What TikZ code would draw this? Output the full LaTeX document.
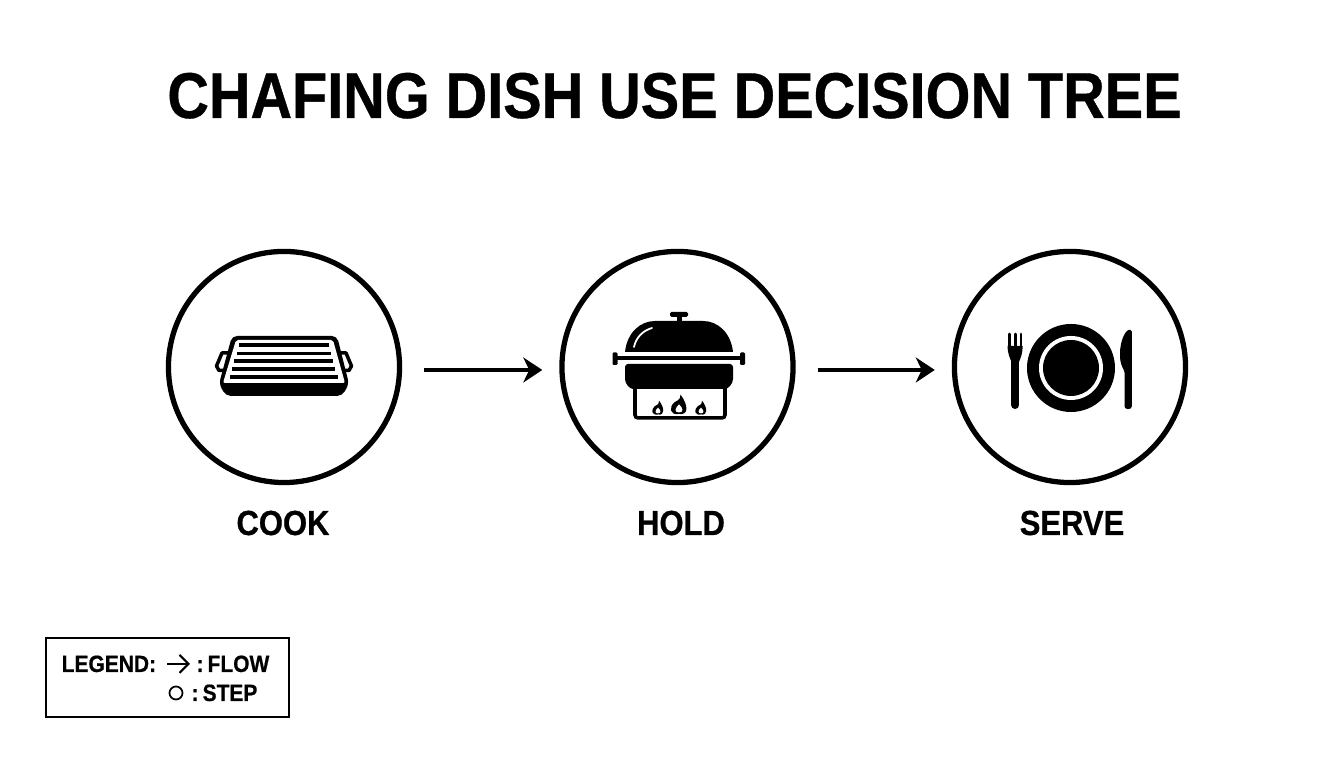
\documentclass[tikz,border=0pt]{standalone}
\usepackage{fontspec}
\setmainfont[BoldFeatures={FakeBold=.6,FakeStretch=.89}]{Liberation Sans}
\usetikzlibrary{arrows.meta}
\tikzset{
  stepnode/.style = {circle, draw, line width = 1.5pt, minimum size = 2.31cm, inner sep = 0},
  flowline/.style = {line width = 1.1pt, -{Stealth[length = 1.9mm, width = 2.5mm, inset = .6mm]}, shorten < = .22cm, shorten > = .17cm},
  steplabel/.style = {font = \fontsize{9.9}{12}\bfseries, anchor = base},
  legendtext/.style = {font = \fontsize{6.7}{8}\bfseries, anchor = base west, inner sep = 0},
}
\newcommand{\flameicon}[3]{% x, y, size
\fill[black] (#1,#2) .. controls (#1+.62*#3,#2+.1*#3) and (#1+.62*#3,#2-.55*#3) .. (#1+.1*#3,#2-1.25*#3)
 .. controls (#1+.1*#3,#2-.85*#3) and (#1-.2*#3,#2-.85*#3) .. (#1-.3*#3,#2-.75*#3)
 .. controls (#1-.65*#3,#2-.45*#3) and (#1-.62*#3,#2+.1*#3) .. (#1,#2);
\fill[white] (#1,#2-.1*#3) .. controls (#1+.34*#3,#2-.1*#3) and (#1+.25*#3,#2-.4*#3) .. (#1,#2-.62*#3)
 .. controls (#1-.25*#3,#2-.4*#3) and (#1-.34*#3,#2-.1*#3) .. (#1,#2-.1*#3);
}
\begin{document}
\begin{tikzpicture}[x = .01cm, y = -.01cm]
\useasboundingbox (0,0) rectangle (1344,768);
\node[font = \fontsize{18.4}{22}\bfseries, anchor = base] (title) at (674.5,118) {CHAFING DISH USE DECISION TREE};
% steps
\node[stepnode] (cook) at (284,367) {};
\node[stepnode] (hold) at (677.5,367) {};
\node[stepnode] (serve) at (1070,367) {};
\draw[flowline] ([yshift = -.03cm]cook.east) -- ([yshift = -.03cm]hold.west);
\draw[flowline] ([yshift = -.03cm]hold.east) -- ([yshift = -.03cm]serve.west);
\node[steplabel] (cooklabel) at (283,535) {COOK};
\node[steplabel] (holdlabel) at (681,535) {HOLD};
\node[steplabel] (servelabel) at (1072,535) {SERVE};
% cook icon
\draw[line width = 1pt, line join = round] (231,353) -- (222,353) -- (216.5,366) -- (219,370.5) -- (228,370.5);
\draw[line width = 1pt, line join = round] (337,353) -- (346,353) -- (351.5,366) -- (349,370.5) -- (340,370.5);
\fill[black, rounded corners = .05cm] (232,336) -- (337,336) -- (349,384) -- (342,396) -- (226,396) -- (219,384) -- cycle;
\fill[white, rounded corners = .02cm] (236,340) -- (333,340) -- (345,383) -- (223,383) -- cycle;
\draw[line width = 1pt] (239,345) -- (329,345);
\draw[line width = 1pt] (237,353.3) -- (331,353.3);
\draw[line width = 1pt] (234,361) -- (333,361);
\draw[line width = 1pt] (232,369) -- (335,369);
\draw[line width = 1pt] (230,377) -- (338,377);
% hold icon
\fill[black] (625,352) .. controls (627,333) and (640,321) .. (655,321) -- (703,321) .. controls (718,321) and (731,333) .. (733,352) -- cycle;
\draw[white, line width = .5pt, line cap = round] (634,347) .. controls (636,338) and (642,331) .. (652,328);
\fill[black] (676.5,315) rectangle (681.5,323);
\fill[black, rounded corners = .015cm] (670,312) rectangle (688,317);
\fill[black, rounded corners = .03cm] (625,364) -- (733,364) -- (733,376) .. controls (733,384) and (728,389) .. (722,389) -- (636,389) .. controls (630,389) and (625,384) .. (625,376) -- cycle;
\fill[black] (615,356) rectangle (743,360);
\fill[black, rounded corners = .012cm] (612.5,352.5) rectangle (617.5,365);
\fill[black, rounded corners = .012cm] (740,352.5) rectangle (745,365);
\draw[line width = 1pt, rounded corners = .03cm] (635,388) -- (635,418) -- (725,418) -- (725,388);
\flameicon{658}{414.5}{11}
\flameicon{679}{414}{15.5}
\flameicon{701}{414.5}{11}
% serve icon
\fill[black] (1071,368) circle (44);
\fill[white] (1071,368) circle (32);
\fill[black] (1071,368) circle (28);
\draw[line width = .8pt, line cap = round] (1009.3,334) -- (1009.3,348);
\draw[line width = .8pt, line cap = round] (1015.3,334) -- (1015.3,348);
\draw[line width = .8pt, line cap = round] (1021,334) -- (1021,348);
\fill[black] (1007.6,346) .. controls (1007.6,354) and (1010,358) .. (1011.5,362) -- (1019,362) .. controls (1020.6,358) and (1022.6,354) .. (1022.6,346) -- cycle;
\draw[line width = 2.3pt, line cap = round] (1015.3,355) -- (1015.3,405);
\fill[black, rounded corners = .015cm] (1131.8,330) .. controls (1125,329) and (1120,342) .. (1120,355) .. controls (1120,362) and (1122,367) .. (1124.5,371) -- (1124.5,405) .. controls (1124.5,410) and (1131.8,410) .. (1131.8,405) -- cycle;
% legend
\node[draw, line width = .6pt, minimum width = 2.43cm, minimum height = .79cm, inner sep = 0] (legend) at (167.5,677.5) {};
\node[legendtext] (legendtitle) at (61,672) {LEGEND:};
\coordinate (flowstart) at (167,664);
\coordinate (flowend) at (190,664);
\draw[line width = .6pt, -{Straight Barb[length = .9mm, width = 1.8mm, line width = .6pt]}] (flowstart) -- (flowend);
\node[legendtext] (flowtext) at (196,672) {:\,FLOW};
\node[draw, circle, line width = .5pt, minimum size = .13cm, inner sep = 0] (stepmark) at (176,693) {};
\node[legendtext] (steptext) at (191,701) {:\,STEP};
\end{tikzpicture}
\end{document}
